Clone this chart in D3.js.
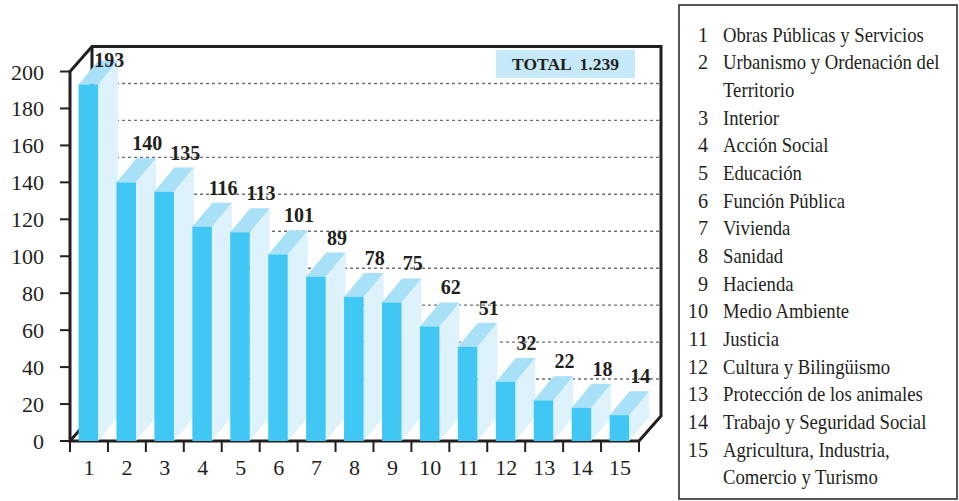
<!DOCTYPE html>
<html>
<head>
<meta charset="utf-8">
<script src="https://cdn.jsdelivr.net/npm/d3@7/dist/d3.min.js"></script>
<style>
  html, body { margin: 0; padding: 0; background: #fff; }
  svg { display: block; }
  text { font-family: "Liberation Serif", "Times New Roman", serif; fill: #231f20; }
</style>
</head>
<body>
<svg id="chart" width="959" height="501"></svg>
<script>
// Expedientes por área (1–15)
const categories = ["1","2","3","4","5","6","7","8","9","10","11","12","13","14","15"];
const values = [193, 140, 135, 116, 113, 101, 89, 78, 75, 62, 51, 32, 22, 18, 14];
const yTicks = [0, 20, 40, 60, 80, 100, 120, 140, 160, 180, 200];
const gridValues = [20, 40, 60, 80, 100, 120, 140, 160, 180];
const legendNames = [
  ["Obras Públicas y Servicios"],
  ["Urbanismo y Ordenación del", "Territorio"],
  ["Interior"],
  ["Acción Social"],
  ["Educación"],
  ["Función Pública"],
  ["Vivienda"],
  ["Sanidad"],
  ["Hacienda"],
  ["Medio Ambiente"],
  ["Justicia"],
  ["Cultura y Bilingüismo"],
  ["Protección de los animales"],
  ["Trabajo y Seguridad Social"],
  ["Agricultura, Industria,", "Comercio y Turismo"]
];

const svg = d3.select("#chart");
const ink = "#231f20";

// Plot frame (front plane) and depth of the box / bars
const left = 70, right = 639, bottom = 441;
const wallDX = 22, wallDY = -25;
const barDX = 20, barDY = -24;

const x = d3.scaleBand().domain(categories).range([left, right]).padding(0);
const y = d3.scaleLinear().domain([0, 200]).range([bottom, 71.5]);
const bw = x.bandwidth();

// Dashed gridlines on the back wall
svg.append("g").selectAll("line").data(gridValues).join("line")
  .attr("x1", left + wallDX).attr("x2", right + wallDX)
  .attr("y1", d => y(d) + wallDY).attr("y2", d => y(d) + wallDY)
  .attr("stroke", "#6d6e71").attr("stroke-width", 1.4)
  .attr("stroke-dasharray", "3,3");

// Back-left edge and left-floor edge (mostly hidden behind bars)
const frame = svg.append("g").attr("fill", "none").attr("stroke", ink)
  .attr("stroke-width", 3).attr("stroke-linejoin", "miter");
frame.append("line")
  .attr("x1", left + wallDX).attr("y1", y(200) + wallDY)
  .attr("x2", left + wallDX).attr("y2", bottom + wallDY);
frame.append("line")
  .attr("x1", left).attr("y1", bottom)
  .attr("x2", left + wallDX).attr("y2", bottom + wallDY);

// TOTAL badge
const total = d3.sum(values);
const esLocale = d3.formatLocale({ decimal: ",", thousands: ".", grouping: [3], currency: ["", " €"] });
const totalBox = { x: 496, y: 50, w: 139, h: 28 };
svg.append("rect")
  .attr("x", totalBox.x).attr("y", totalBox.y)
  .attr("width", totalBox.w).attr("height", totalBox.h)
  .attr("fill", "#c6e9f9");
svg.append("text")
  .attr("x", totalBox.x + totalBox.w / 2).attr("y", totalBox.y + 19.5)
  .attr("text-anchor", "middle")
  .attr("font-size", 17.5).attr("font-weight", "bold")
  .style("white-space", "pre")
  .text("TOTAL  " + esLocale.format(",")(total));

// 3D bars
const barX = d => x(d) + bw * 0.225;
const barW = bw * 0.515;
const bars = svg.append("g").selectAll("g").data(values.map((v, i) => ({ c: categories[i], v })))
  .join("g");

bars.append("path") // side face
  .attr("fill", "#ddf2fb")
  .attr("d", d => {
    const xr = barX(d.c) + barW, yt = y(d.v), y0 = y(0);
    return `M${xr},${yt}L${xr + barDX},${yt + barDY}L${xr + barDX},${y0 + barDY}L${xr},${y0}Z`;
  });
bars.append("path") // top face
  .attr("fill", "#a8e0f8")
  .attr("d", d => {
    const xl = barX(d.c), xr = xl + barW, yt = y(d.v);
    return `M${xl},${yt}L${xr},${yt}L${xr + barDX},${yt + barDY}L${xl + barDX},${yt + barDY}Z`;
  });
bars.append("rect") // front face
  .attr("fill", "#41c7f4")
  .attr("x", d => barX(d.c)).attr("width", barW)
  .attr("y", d => y(d.v)).attr("height", d => y(0) - y(d.v));

// Value labels above the bars, kept inside the box
svg.append("g").selectAll("text").data(values.map((v, i) => ({ c: categories[i], v })))
  .join("text")
  .attr("x", d => barX(d.c) + barDX + barW / 2 + 1)
  .attr("y", d => Math.max(y(d.v) + barDY - 8, y(200) + wallDY + 20))
  .attr("text-anchor", "middle")
  .attr("font-size", 20).attr("font-weight", "bold")
  .text(d => d.v);

// Front/top/right edges of the box
frame.append("path")
  .attr("d", `M${left},${bottom}L${left},${y(200)}L${left + wallDX},${y(200) + wallDY}` +
             `L${right + wallDX},${y(200) + wallDY}L${right + wallDX},${bottom + wallDY}` +
             `L${right},${bottom}Z`);

// Y axis
const yAxis = svg.append("g");
yAxis.selectAll("line").data(yTicks).join("line")
  .attr("x1", left - 10).attr("x2", left)
  .attr("y1", d => y(d)).attr("y2", d => y(d))
  .attr("stroke", ink).attr("stroke-width", 2);
yAxis.selectAll("text").data(yTicks).join("text")
  .attr("x", 44).attr("y", d => y(d) + 8)
  .attr("text-anchor", "end").attr("font-size", 22)
  .text(d => d);

// X axis
const xBounds = categories.map(c => x(c)).concat([right]);
const xAxis = svg.append("g");
xAxis.selectAll("line").data(xBounds).join("line")
  .attr("x1", d => d).attr("x2", d => d)
  .attr("y1", bottom).attr("y2", bottom + 11)
  .attr("stroke", ink).attr("stroke-width", 2);
xAxis.selectAll("text").data(categories).join("text")
  .attr("x", d => x(d) + bw / 2).attr("y", 475)
  .attr("text-anchor", "middle").attr("font-size", 22)
  .text(d => d);

// Legend
const lg = svg.append("g");
lg.append("rect")
  .attr("x", 679).attr("y", 5).attr("width", 278).attr("height", 494)
  .attr("fill", "#fff").attr("stroke", ink).attr("stroke-width", 1.5);
const lineStep = 27.67, firstBase = 41.5, sx = 0.85;
let line = 0;
legendNames.forEach((lines, i) => {
  lg.append("text")
    .attr("transform", `translate(708,${firstBase + line * lineStep}) scale(0.92,1)`)
    .attr("text-anchor", "end").attr("font-size", 22)
    .text(categories[i]);
  lines.forEach(t => {
    lg.append("text")
      .attr("transform", `translate(723,${firstBase + line * lineStep}) scale(${sx},1)`)
      .attr("font-size", 22)
      .text(t);
    line++;
  });
});
</script>
</body>
</html>
